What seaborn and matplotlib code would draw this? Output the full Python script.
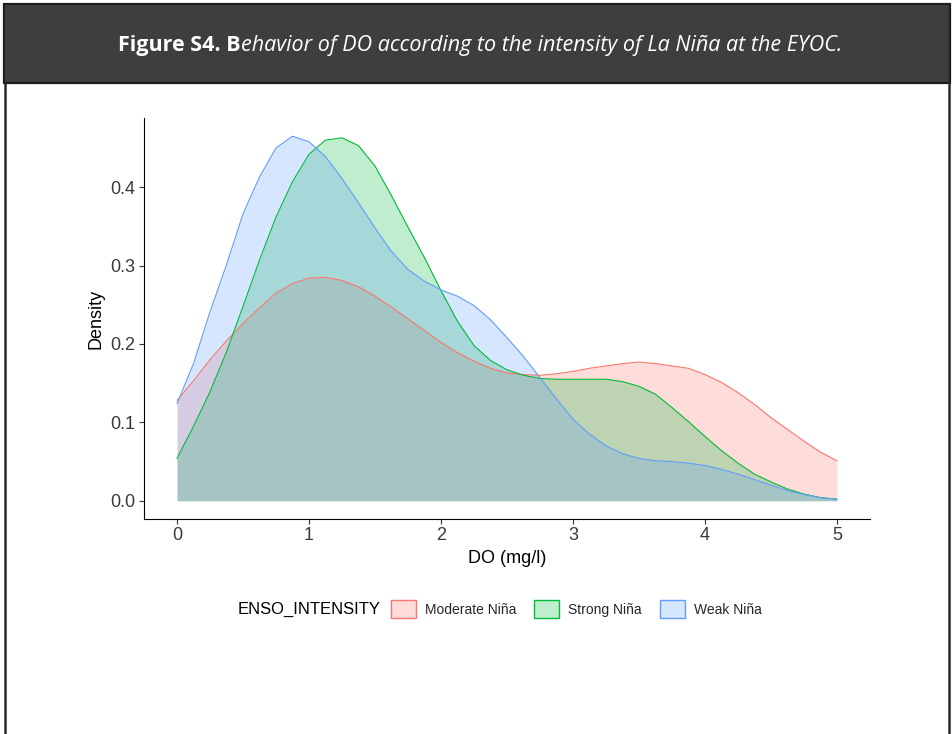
import numpy as np
import pandas as pd
import seaborn as sns
import matplotlib.pyplot as plt
from matplotlib.patches import Rectangle, Patch
from matplotlib.lines import Line2D

# Density of dissolved oxygen (DO) by La Niña intensity, sampled along the DO axis
do_grid = [0.0, 0.125, 0.25, 0.375, 0.5, 0.625, 0.75, 0.875, 1.0, 1.125, 1.25,
           1.375, 1.5, 1.625, 1.75, 1.875, 2.0, 2.125, 2.25, 2.375, 2.5,
           2.625, 2.75, 2.875, 3.0, 3.125, 3.25, 3.375, 3.5, 3.625, 3.75,
           3.875, 4.0, 4.125, 4.25, 4.375, 4.5, 4.625, 4.75, 4.875, 5.0]

moderate_nina = [0.128, 0.153, 0.180, 0.204, 0.226, 0.246, 0.265, 0.277, 0.284, 0.285, 0.281,
                 0.273, 0.261, 0.247, 0.232, 0.217, 0.202, 0.189, 0.178, 0.169, 0.163,
                 0.161, 0.160, 0.162, 0.165, 0.169, 0.172, 0.175, 0.177, 0.175, 0.172,
                 0.169, 0.161, 0.151, 0.138, 0.123, 0.106, 0.091, 0.076, 0.062, 0.051]

strong_nina = [0.054, 0.095, 0.139, 0.190, 0.248, 0.307, 0.362, 0.407, 0.442, 0.460, 0.463,
               0.453, 0.427, 0.389, 0.349, 0.310, 0.268, 0.229, 0.198, 0.179, 0.167,
               0.160, 0.156, 0.155, 0.155, 0.155, 0.155, 0.152, 0.146, 0.136, 0.119,
               0.101, 0.082, 0.064, 0.048, 0.034, 0.024, 0.015, 0.0085, 0.004, 0.002]

weak_nina = [0.124, 0.175, 0.241, 0.301, 0.366, 0.413, 0.450, 0.465, 0.458, 0.439, 0.411,
             0.380, 0.348, 0.318, 0.295, 0.280, 0.269, 0.261, 0.249, 0.231, 0.208,
             0.184, 0.157, 0.130, 0.104, 0.085, 0.070, 0.060, 0.054, 0.051, 0.050,
             0.048, 0.045, 0.040, 0.034, 0.027, 0.020, 0.013, 0.008, 0.004, 0.002]

intensity_levels = ["Moderate Niña", "Strong Niña", "Weak Niña"]
x_ticks = [0, 1, 2, 3, 4, 5]
y_ticks = [0.0, 0.1, 0.2, 0.3, 0.4]

palette = {"Moderate Niña": "#F8766D", "Strong Niña": "#00BA38", "Weak Niña": "#619CFF"}
fill_alpha = 0.25

df = pd.DataFrame({
    "DO": do_grid * 3,
    "density": moderate_nina + strong_nina + weak_nina,
    "ENSO_INTENSITY": np.repeat(intensity_levels, len(do_grid)),
})

sns.set_theme(style="ticks")
plt.rcParams["font.family"] = ["Liberation Sans", "DejaVu Sans"]

W, H = 953, 734
fig = plt.figure(figsize=(W / 100, H / 100), dpi=100)
fig.patch.set_facecolor("white")

# ---- header bar with the caption ----
fig.patches.append(Rectangle((4 / W, 1 - 83 / H), 946 / W, 79 / H, transform=fig.transFigure,
                             facecolor="#3e3e3e", edgecolor="#1e1e1e", lw=1.6, zorder=0))
for xb in (5, 949):
    fig.add_artist(Line2D([xb / W, xb / W], [0, 1 - 83 / H], transform=fig.transFigure,
                          color="#2a2a2a", lw=1.8))

title_font = ["Open Sans", "DejaVu Sans"]
fs = 16
t1 = fig.text(0, 1 - 45 / H, "Figure S4. B", color="white", fontsize=fs, fontweight="bold",
              family=title_font, va="center", ha="left")
t2 = fig.text(0, 1 - 45 / H, "ehavior of DO according to the intensity of La Niña at the EYOC.",
              color="white", fontsize=fs, fontstyle="italic", family=title_font,
              va="center", ha="left")
fig.canvas.draw()
r = fig.canvas.get_renderer()
w1 = t1.get_window_extent(r).width
w2 = t2.get_window_extent(r).width
scale = 726 / (w1 + w2)
t1.set_fontsize(fs * scale)
t2.set_fontsize(fs * scale)
fig.canvas.draw()
w1 = t1.get_window_extent(r).width
w2 = t2.get_window_extent(r).width
x_start = 480 - (w1 + w2) / 2
t1.set_x(x_start / W)
t2.set_x((x_start + w1) / W)

# ---- density panel ----
ax = fig.add_axes([144 / W, 1 - 519 / H, (870 - 144) / W, (519 - 118) / H])
ax.set_facecolor("white")
for level in intensity_levels:
    sub = df[df["ENSO_INTENSITY"] == level]
    col = palette[level]
    ax.fill_between(sub["DO"], 0, sub["density"], color=col, alpha=fill_alpha, lw=0)
    sns.lineplot(data=sub, x="DO", y="density", color=col, lw=0.8, ax=ax, legend=False)

ymax = max(max(moderate_nina), max(strong_nina), max(weak_nina))
ax.set_xlim(-0.25, 5.25)
ax.set_ylim(-0.05 * ymax, 1.05 * ymax)
ax.set_xticks(x_ticks)
ax.set_xticklabels([str(v) for v in x_ticks])
ax.set_yticks(y_ticks)
ax.set_yticklabels([f"{v:.1f}" for v in y_ticks])
sns.despine(ax=ax)
for s in ("left", "bottom"):
    ax.spines[s].set_color("black")
    ax.spines[s].set_linewidth(0.8)
ax.tick_params(direction="out", length=3.6, width=0.8, color="#333333",
               labelsize=13, labelcolor="#3a3a3a", pad=2.5)
ax.set_xlabel("DO (mg/l)", fontsize=13, color="black", labelpad=4)
ax.set_ylabel("Density", fontsize=13, color="black", labelpad=4)

# ---- legend: title on the left, keys in one row ----
fig.text(238 / W, 1 - 609 / H, "ENSO_INTENSITY", fontsize=12, color="black",
         va="center", ha="left")
handles = [Patch(facecolor=(*plt.matplotlib.colors.to_rgb(palette[k]), fill_alpha),
                 edgecolor=palette[k], lw=1.0) for k in intensity_levels]
fig.legend(handles, intensity_levels, loc="center left",
           bbox_to_anchor=(391 / W, 1 - 609 / H), ncol=3, frameon=False,
           fontsize=10, handlelength=1.8, handleheight=1.65, handletextpad=0.65,
           columnspacing=1.3, borderpad=0, borderaxespad=0)

fig.savefig("out.png", dpi=100, facecolor="white")
